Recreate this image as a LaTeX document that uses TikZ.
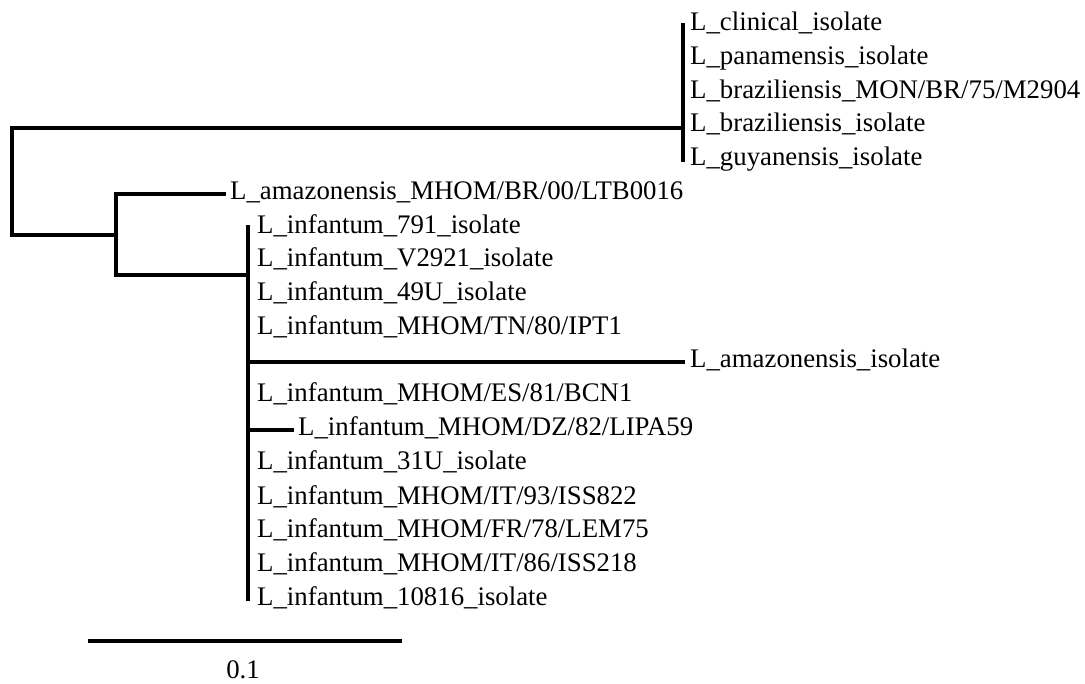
\documentclass[tikz,border=0pt]{standalone}
\usepackage{fontspec}
\setmainfont{Liberation Serif}
\begin{document}
\begin{tikzpicture}[x=1pt,y=-1pt,
  br/.style={line width=4pt, line join=miter, line cap=rect},
  lab/.style={anchor=base west, inner sep=0pt, font=\fontsize{26.8}{30}\selectfont}]
\useasboundingbox (0,0) rectangle (1085,684);
% internal nodes
\coordinate (root) at (12,182);
\coordinate (A) at (683,128);
\coordinate (B) at (116,235);
\coordinate (C) at (248,275);
\coordinate (Atop) at (683,25);
\coordinate (Abot) at (683,160);
\coordinate (Btop) at (116,194);
\coordinate (Ctop) at (248,227);
\coordinate (Cbot) at (248,599);
% leaf tips
\coordinate (t5) at (224,194);
\coordinate (t10) at (683,362);
\coordinate (t12) at (292,430);
\coordinate (c10) at (248,362);
\coordinate (c12) at (248,430);
% branches
\draw[br] (root) |- (A);
\draw[br] (root) |- (B);
\draw[br] (Atop) -- (Abot);
\draw[br] (t5) -| (B) |- (C);
\draw[br] (Ctop) -- (Cbot);
\draw[br] (c10) -- (t10);
\draw[br] (c12) -- (t12);
% labels
\node[lab] (l0) at (690,31) {L\_clinical\_isolate};
\node[lab] (l1) at (690,65) {L\_panamensis\_isolate};
\node[lab] (l2) at (690,99) {L\_braziliensis\_MON/BR/75/M2904};
\node[lab] (l3) at (690,132) {L\_braziliensis\_isolate};
\node[lab] (l4) at (690,166) {L\_guyanensis\_isolate};
\node[lab] (l5) at (230,200) {L\_amazonensis\_MHOM/BR/00/LTB0016};
\node[lab] (l6) at (257,234) {L\_infantum\_791\_isolate};
\node[lab] (l7) at (257,267) {L\_infantum\_V2921\_isolate};
\node[lab] (l8) at (257,301) {L\_infantum\_49U\_isolate};
\node[lab] (l9) at (257,335) {L\_infantum\_MHOM/TN/80/IPT1};
\node[lab] (l10) at (690,368) {L\_amazonensis\_isolate};
\node[lab] (l11) at (257,402) {L\_infantum\_MHOM/ES/81/BCN1};
\node[lab] (l12) at (298,436) {L\_infantum\_MHOM/DZ/82/LIPA59};
\node[lab] (l13) at (257,470) {L\_infantum\_31U\_isolate};
\node[lab] (l14) at (257,504) {L\_infantum\_MHOM/IT/93/ISS822};
\node[lab] (l15) at (257,537) {L\_infantum\_MHOM/FR/78/LEM75};
\node[lab] (l16) at (257,571) {L\_infantum\_MHOM/IT/86/ISS218};
\node[lab] (l17) at (257,605) {L\_infantum\_10816\_isolate};
% scale bar
\coordinate (s1) at (88,641);
\coordinate (s2) at (402,641);
\draw[line width=4pt] (s1) -- (s2);
\node[inner sep=0pt, font=\fontsize{26.8}{30}\selectfont] (sl) at (243,670) {0.1};
\end{tikzpicture}
\end{document}
